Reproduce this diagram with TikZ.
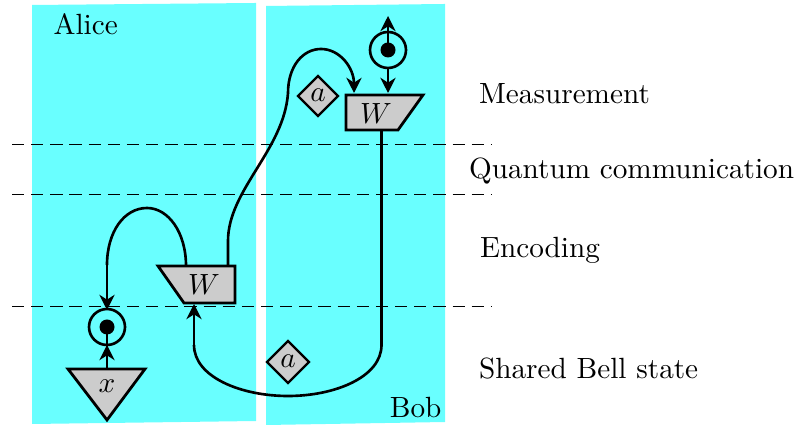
\documentclass[tikz,border=0pt]{standalone}
\usetikzlibrary{arrows.meta}
\definecolor{panel}{RGB}{105,255,255}
\definecolor{boxgray}{RGB}{204,204,204}
\begin{document}
\begin{tikzpicture}[x=0.342pt,y=-0.342pt,
  wire/.style={line width=0.9pt},
  arrowwire/.style={wire,-{Stealth[length=5.2pt,width=5.2pt]}},
  boxshape/.style={fill=boxgray,draw=black,line width=0.95pt,line join=miter},
  thinshape/.style={fill=boxgray,draw=black,line width=0.75pt},
  level/.style={draw=black,line width=0.35pt,dash pattern=on 4.2pt off 2.35pt},
  lab/.style={inner sep=0pt,anchor=base west}]
\useasboundingbox (0,0) rectangle (801,425);
% panels
\fill[panel] (32,5) -- (256,3) -- (256,421) -- (32,424) -- cycle;
\fill[panel] (266,6) -- (445,4) -- (445,422) -- (266,425) -- cycle;
% levels
\coordinate (d1l) at (12,144.5); \coordinate (d1r) at (491,144.5);
\coordinate (d2l) at (12,194.5); \coordinate (d2r) at (491,194.5);
\coordinate (d3l) at (12,306.7); \coordinate (d3r) at (491,306.7);
\draw[level] (d1l) -- (d1r);
\draw[level] (d2l) -- (d2r);
\draw[level] (d3l) -- (d3r);
% anchors
\coordinate (ctop) at (388,50);
\coordinate (ctopN) at (388,16);
\coordinate (ctopS) at (388,68);
\coordinate (wtopA) at (388,93);
\coordinate (wtopB) at (354,93);
\coordinate (wtopC) at (381.5,130);
\coordinate (m1) at (288,93);
\coordinate (m2) at (228,241);
\coordinate (wlowA) at (228,266);
\coordinate (wlowB) at (186,266);
\coordinate (wlowC) at (194,304);
\coordinate (m3) at (107,265);
\coordinate (clow) at (107,327);
\coordinate (clowN) at (107,310);
\coordinate (xtop) at (107,369);
\coordinate (xarrow) at (107,345);
\coordinate (m4) at (381.5,345);
\coordinate (m5) at (194,345);
% wires
\draw[arrowwire] (m1) .. controls (288,66) and (303,49) .. (321,49) .. controls (340,49) and (354,68) .. (wtopB);
\draw[wire] (m1) .. controls (284,150) and (228,190) .. (m2) -- (wlowA);
\draw[wire] (wlowB) .. controls (186,232) and (168,208) .. (147,208) .. controls (124,208) and (107,232) .. (m3);
\draw[arrowwire] (m3) -- (clowN);
\draw[wire] (wtopC) -- (m4);
\draw[wire] (m4) .. controls (381.5,377) and (335,396) .. (288,396) .. controls (241,396) and (194,377) .. (m5);
\draw[arrowwire] (m5) -- (wlowC);
\draw[wire] (xtop) -- (clow);
\draw[arrowwire] (xtop) -- (xarrow);
\draw[arrowwire] (ctop) -- (ctopN);
\draw[arrowwire] (ctopS) -- (wtopA);
% meters
\draw[wire] (ctop) circle[radius=18];
\fill (ctop) circle[radius=7.5];
\draw[wire] (clow) circle[radius=18];
\fill (clow) circle[radius=7.5];
% boxes
\draw[boxshape] (346,95) -- (423,95) -- (398,130) -- (346,130) -- cycle;
\node[inner sep=0pt] (w1) at (376,114) {$W$};
\draw[boxshape] (158,266) -- (235,266) -- (235,303) -- (184,303) -- cycle;
\node[inner sep=0pt] (w2) at (204,285) {$W$};
\draw[boxshape] (68,369) -- (145,369) -- (107,420) -- cycle;
\node[inner sep=0pt] (xn) at (107,386) {$x$};
\draw[thinshape] (318,76) -- (338,96) -- (318,116) -- (298,96) -- cycle;
\node[inner sep=0pt] (a1) at (318,95) {$a$};
\draw[thinshape] (288,341) -- (309,362) -- (288,383) -- (267,362) -- cycle;
\node[inner sep=0pt] (a2) at (288,361) {$a$};
% labels
\node[lab] (alice) at (53,35) {Alice};
\node[inner sep=0pt,anchor=base east] (bob) at (442,418) {Bob};
\node[lab] (meas) at (478.5,104) {Measurement};
\node[lab] (qc) at (468.5,179) {Quantum communication};
\node[lab] (enc) at (479.5,258) {Encoding};
\node[lab] (sbs) at (478.5,379) {Shared Bell state};
\end{tikzpicture}
\end{document}
